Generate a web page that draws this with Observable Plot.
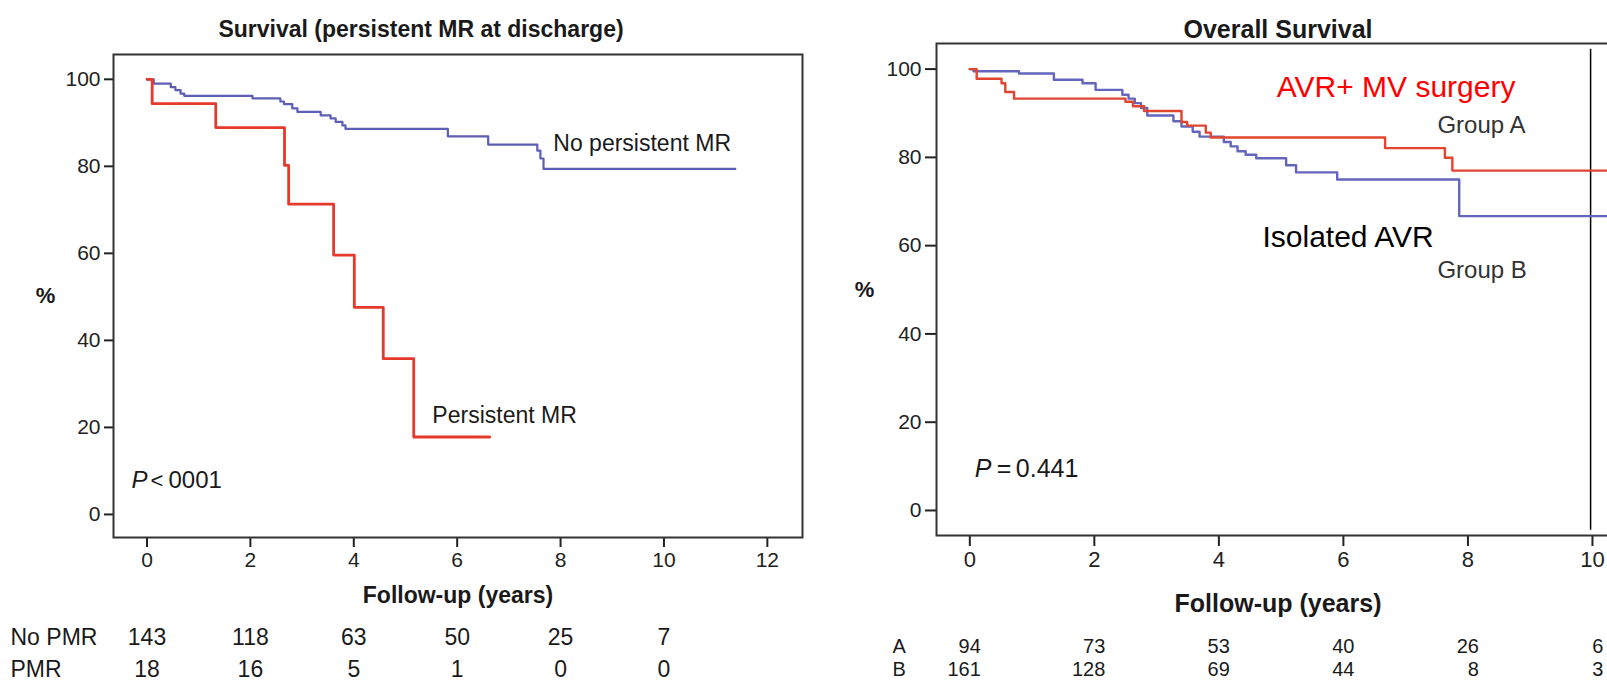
<!DOCTYPE html>
<html>
<head>
<meta charset="utf-8">
<script src="https://cdn.jsdelivr.net/npm/d3@7"></script>
<script src="https://cdn.jsdelivr.net/npm/@observablehq/plot@0.6"></script>
<style>
  html, body { margin: 0; padding: 0; background: #fff; }
  #wrap { position: relative; width: 1607px; height: 684px; overflow: hidden; background: #fff; }
  #left { position: absolute; left: 0; top: 0; width: 810px; height: 684px; overflow: hidden; }
  #right { position: absolute; left: 852px; top: 0; width: 763px; height: 684px; overflow: hidden; }
  #left svg, #right svg { display: block; max-width: none !important; }
</style>
</head>
<body>
<div id="wrap"><div id="left"></div><div id="right"></div></div>
<script>
// ---------- Left panel data ----------
const leftTitle = "Survival (persistent MR at discharge)";
const noPmrTime = [0, 0.13, 0.46, 0.55, 0.65, 0.72, 2.04, 2.58, 2.65, 2.81, 2.91, 3.36, 3.55, 3.65, 3.78, 3.84, 5.82, 6.6, 7.55, 7.61, 7.67, 11.38];
const noPmrSurv = [100, 99.0, 98.2, 97.5, 96.7, 96.2, 95.6, 94.9, 94.3, 93.3, 92.5, 91.7, 91.0, 90.2, 89.4, 88.6, 86.9, 85.0, 83.6, 81.8, 79.4, 79.4];
const pmrTime = [0, 0.1, 1.33, 2.66, 2.74, 3.61, 4.01, 4.57, 5.16, 6.63];
const pmrSurv = [100, 94.4, 88.9, 80.2, 71.3, 59.6, 47.6, 35.8, 17.8, 17.8];
const leftXTicks = [0, 2, 4, 6, 8, 10, 12];
const leftRiskTimes = [0, 2, 4, 6, 8, 10];
const noPmrRisk = [143, 118, 63, 50, 25, 7];
const pmrRisk = [18, 16, 5, 1, 0, 0];
const leftRowLabels = ["No PMR", "PMR"];
const leftPText = ["P", "<", "0001"];

// ---------- Right panel data ----------
const rightTitle = "Overall Survival";
const groupATime = [0, 0.11, 0.51, 0.57, 0.71, 2.5, 2.62, 2.8, 3.4, 3.49, 3.79, 3.87, 6.67, 7.63, 7.75, 10.45];
const groupASurv = [100, 97.8, 96.8, 94.8, 93.3, 92.6, 91.6, 90.5, 88.0, 87.2, 85.6, 84.5, 82.1, 79.9, 77.0, 77.0];
const groupBTime = [0, 0.06, 0.79, 1.35, 1.81, 2.02, 2.45, 2.55, 2.65, 2.75, 2.85, 3.27, 3.4, 3.58, 3.69, 4.08, 4.19, 4.3, 4.43, 4.6, 5.08, 5.24, 5.9, 7.86, 10.45];
const groupBSurv = [100, 99.5, 99.0, 97.6, 96.8, 95.3, 94.2, 93.3, 92.3, 91.2, 89.5, 88.2, 87.0, 85.8, 84.7, 83.5, 82.5, 81.4, 80.6, 79.8, 78.2, 76.6, 75.0, 66.7, 66.7];
const rightXTicks = [0, 2, 4, 6, 8, 10];
const rightRiskTimes = [0, 2, 4, 6, 8, 10];
const groupARisk = [94, 73, 53, 40, 26, 6];
const groupBRisk = [161, 128, 69, 44, 8, 3];
const rightRowLabels = ["A", "B"];
const rightPText = ["P", "=", "0.441"];
const markerYear = 9.97;

const yTicks = [0, 20, 40, 60, 80, 100];
const FONT = "Liberation Sans, Arial, Helvetica, sans-serif";
const INK = "#1a1a1a";

const toSteps = (t, s) => t.map((d, i) => ({t: d, s: s[i]}));

// ---------- Left plot ----------
const leftPlot = Plot.plot({
  width: 810, height: 684,
  marginLeft: 113, marginRight: 8, marginTop: 54, marginBottom: 147,
  x: {domain: [-0.648, 12.68]},
  y: {domain: [-5.3, 105.7]},
  style: {fontFamily: FONT, background: "white", color: "#222"},
  marks: [
    Plot.axisY(yTicks, {anchor: "left", tickSize: 9, tickPadding: 4, fontSize: 21, strokeWidth: 2, color: "#222", label: null}),
    Plot.axisX(leftXTicks, {anchor: "bottom", tickSize: 10, tickPadding: 5, fontSize: 21, strokeWidth: 2, color: "#222", label: null}),
    Plot.frame({stroke: "#333", strokeWidth: 2}),
    Plot.line(toSteps(noPmrTime, noPmrSurv), {x: "t", y: "s", curve: "step-after", stroke: "#5c5fb4", strokeWidth: 2.2}),
    Plot.line(toSteps(pmrTime, pmrSurv), {x: "t", y: "s", curve: "step-after", stroke: "#e5392b", strokeWidth: 2.8}),
    Plot.text([leftTitle], {frameAnchor: "top", lineAnchor: "middle", dx: -37, dy: -25, fontWeight: "bold", fontSize: 23, fill: INK}),
    Plot.text(["No persistent MR"], {x: 7.86, y: 85.3, textAnchor: "start", fontSize: 23, fill: INK}),
    Plot.text(["Persistent MR"], {x: 5.52, y: 22.8, textAnchor: "start", fontSize: 23, fill: INK}),
    Plot.text([leftPText[0]], {x: -0.3, y: 7.8, textAnchor: "start", fontSize: 24, fontStyle: "italic", fill: INK}),
    Plot.text([leftPText[1]], {x: -0.3, y: 7.8, dx: 19, textAnchor: "start", fontSize: 22, fill: INK}),
    Plot.text([leftPText[2]], {x: -0.3, y: 7.8, dx: 37, textAnchor: "start", fontSize: 24, fill: INK}),
    Plot.text(["%"], {frameAnchor: "left", lineAnchor: "middle", textAnchor: "middle", dx: -68, fontWeight: "bold", fontSize: 22, fill: INK}),
    Plot.text(["Follow-up (years)"], {frameAnchor: "bottom", lineAnchor: "middle", dy: 58, fontWeight: "bold", fontSize: 23, fill: INK}),
    Plot.text([leftRowLabels[0]], {frameAnchor: "bottom-left", lineAnchor: "middle", dx: -103, dy: 100, textAnchor: "start", fontSize: 23, fill: INK}),
    Plot.text([leftRowLabels[1]], {frameAnchor: "bottom-left", lineAnchor: "middle", dx: -103, dy: 132, textAnchor: "start", fontSize: 23, fill: INK}),
    Plot.text(leftRiskTimes, {x: d => d, frameAnchor: "bottom", lineAnchor: "middle", dy: 100, text: (d, i) => String(noPmrRisk[i]), fontSize: 23, fill: INK}),
    Plot.text(leftRiskTimes, {x: d => d, frameAnchor: "bottom", lineAnchor: "middle", dy: 132, text: (d, i) => String(pmrRisk[i]), fontSize: 23, fill: INK})
  ]
});
document.getElementById("left").appendChild(leftPlot);

// ---------- Right plot ----------
const rightPlot = Plot.plot({
  width: 763, height: 684,
  marginLeft: 84, marginRight: 0, marginTop: 43, marginBottom: 149,
  x: {domain: [-0.535, 10.37]},
  y: {domain: [-5.67, 105.8]},
  style: {fontFamily: FONT, background: "white", color: "#222"},
  marks: [
    Plot.axisY(yTicks, {anchor: "left", tickSize: 11, tickPadding: 4, fontSize: 21, strokeWidth: 2, color: "#222", label: null}),
    Plot.axisX(rightXTicks, {anchor: "bottom", tickSize: 11, tickPadding: 5, fontSize: 22, strokeWidth: 2, color: "#222", label: null}),
    Plot.frame({stroke: "#333", strokeWidth: 2}),
    Plot.ruleX([markerYear], {y1: -4.5, y2: 104.5, stroke: "#000", strokeWidth: 1.5}),
    Plot.line(toSteps(groupBTime, groupBSurv), {x: "t", y: "s", curve: "step-after", stroke: "#6466bd", strokeWidth: 2.4}),
    Plot.line(toSteps(groupATime, groupASurv), {x: "t", y: "s", curve: "step-after", stroke: "#e0452f", strokeWidth: 2.4}),
    Plot.text([rightTitle], {frameAnchor: "top", lineAnchor: "middle", dx: 2, dy: -14, fontWeight: "bold", fontSize: 25, fill: INK}),
    Plot.text(["AVR+ MV surgery"], {x: 4.93, y: 95.85, textAnchor: "start", fontSize: 30, fill: "#ff0000"}),
    Plot.text(["Group A"], {x: 7.51, y: 87.2, textAnchor: "start", fontSize: 24, fill: "#333"}),
    Plot.text(["Isolated AVR"], {x: 4.70, y: 61.9, textAnchor: "start", fontSize: 30, fill: "#000"}),
    Plot.text(["Group B"], {x: 7.51, y: 54.4, textAnchor: "start", fontSize: 24, fill: "#333"}),
    Plot.text([rightPText[0]], {x: 0.08, y: 9.5, textAnchor: "start", fontSize: 25, fontStyle: "italic", fill: INK}),
    Plot.text([rightPText[1]], {x: 0.08, y: 9.5, dx: 22, textAnchor: "start", fontSize: 25, fill: INK}),
    Plot.text([rightPText[2]], {x: 0.08, y: 9.5, dx: 41, textAnchor: "start", fontSize: 25, fill: INK}),
    Plot.text(["%"], {frameAnchor: "left", lineAnchor: "middle", textAnchor: "middle", dx: -72, fontWeight: "bold", fontSize: 22, fill: INK}),
    Plot.text(["Follow-up (years)"], {frameAnchor: "bottom", lineAnchor: "middle", dx: 2, dy: 68, fontWeight: "bold", fontSize: 25, fill: INK}),
    Plot.text([rightRowLabels[0]], {frameAnchor: "bottom-left", lineAnchor: "middle", dx: -44, dy: 111, textAnchor: "start", fontSize: 20, fill: INK}),
    Plot.text([rightRowLabels[1]], {frameAnchor: "bottom-left", lineAnchor: "middle", dx: -44, dy: 134, textAnchor: "start", fontSize: 20, fill: INK}),
    Plot.text(rightRiskTimes, {x: d => d, frameAnchor: "bottom", lineAnchor: "middle", dx: 11, dy: 111, textAnchor: "end", text: (d, i) => String(groupARisk[i]), fontSize: 20, fill: INK}),
    Plot.text(rightRiskTimes, {x: d => d, frameAnchor: "bottom", lineAnchor: "middle", dx: 11, dy: 134, textAnchor: "end", text: (d, i) => String(groupBRisk[i]), fontSize: 20, fill: INK})
  ]
});
document.getElementById("right").appendChild(rightPlot);
</script>
</body>
</html>
